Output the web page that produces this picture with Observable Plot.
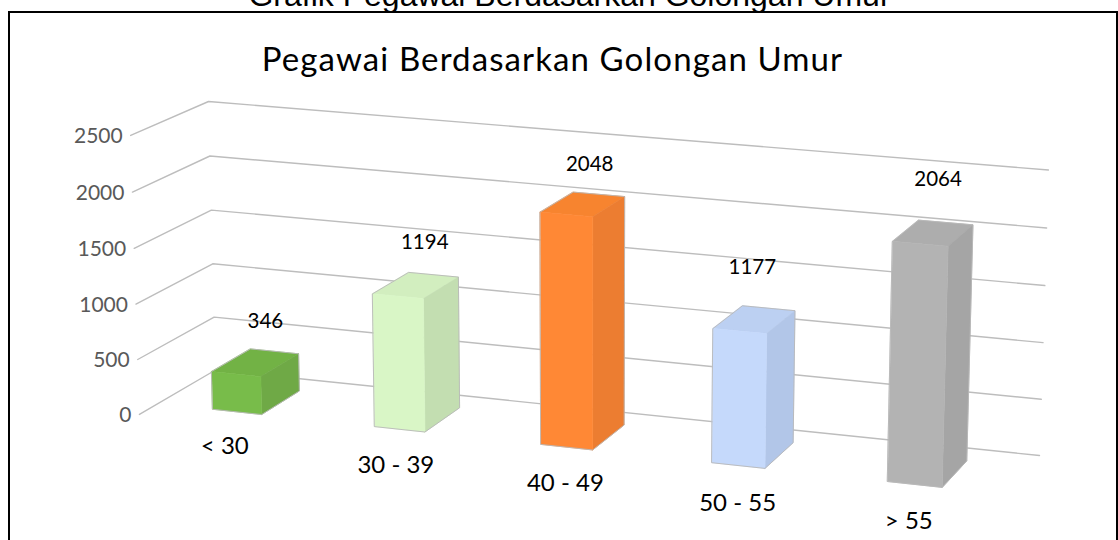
<!DOCTYPE html>
<html><head><meta charset="utf-8">
<script src="https://cdn.jsdelivr.net/npm/d3@7"></script>
<script src="https://cdn.jsdelivr.net/npm/@observablehq/plot@0.6"></script>
<style>
html,body{margin:0;padding:0;background:#fff;overflow:hidden;width:1118px;height:540px}
#chart{position:absolute;left:0;top:0;width:1118px;height:540px}
#box{position:absolute;left:7.5px;top:10.5px;width:1106px;height:560px;border:2px solid #000;pointer-events:none}
svg{display:block}
.spaced text{letter-spacing:1.1px}
</style></head>
<body><div id="chart"></div><div id="box"></div>
<script>
// Data
const categories = ["< 30", "30 - 39", "40 - 49", "50 - 55", "> 55"];
const values = [346, 1194, 2048, 1177, 2064];
const valueTicks = [0, 500, 1000, 1500, 2000, 2500];
const outerTitle = "Grafik Pegawai Berdasarkan Golongan Umur";
const chartTitle = "Pegawai Berdasarkan Golongan Umur";
const frontColors = ["#78bc4a", "#d9f6c6", "#ff8835", "#c5d9fb", "#b3b3b3"];
const sideColors = ["#6fa946", "#c3deb1", "#ec7d31", "#b2c6e8", "#a5a5a5"];
const topColors = ["#72b245", "#d2eebf", "#f7842f", "#bcd0f2", "#adadad"];

// Hand placement of the labels in the original chart, in pixels
const valueLabelDx = [9, 8, 6, -3, 4];
const valueLabelDy = [-41, -43, -40, -52, -54];
const categoryLabelDx = [5, 12, 13, 12, 5];
const categoryLabelDy = [23, 24, 24, 25, 24];

// Pinhole projection of the 3D chart box: u across categories, w depth (0 = back wall), v = value / max
const maxValue = 2500, barWidth = 0.061, barShift = -0.001, barBack = 0.24, barFront = 0.76;
function project(u, w, val) {
  const v = val / maxValue;
  const den = 1 - 0.064 * u - 0.04 * w - 0.0183 * v;
  return {
    px: (215 + 757.5 * u - 81.6 * w - 10.8 * v) / den,
    py: (369.5 + 56.4 * u + 27.9 * w - 270.35 * v) / den
  };
}

const gridRows = valueTicks.flatMap(t => [
  {tick: t, ...project(0, 1, t)},
  {tick: t, ...project(0, 0, t)},
  {tick: t, ...project(1, 0, t)}
]);

const faceRows = [], outlineRows = [];
values.forEach((val, i) => {
  const uc = (i + 0.5) / categories.length + barShift;
  const u0 = uc - barWidth / 2, u1 = uc + barWidth / 2;
  const face = (name, color, corners) => corners.forEach(([u, w, h]) =>
    faceRows.push({id: i + name, color, ...project(u, w, h)}));
  face("top", topColors[i], [[u0, barFront, val], [u1, barFront, val], [u1, barBack, val], [u0, barBack, val]]);
  face("side", sideColors[i], [[u1, barFront, 0], [u1, barBack, 0], [u1, barBack, val], [u1, barFront, val]]);
  face("front", frontColors[i], [[u0, barFront, 0], [u1, barFront, 0], [u1, barFront, val], [u0, barFront, val]]);
  [[u0, barFront, 0], [u1, barFront, 0], [u1, barBack, 0], [u1, barBack, val], [u0, barBack, val], [u0, barFront, val]]
    .forEach(([u, w, h]) => outlineRows.push({id: i, ...project(u, w, h)}));
});

const tickRows = valueTicks.map(t => ({label: String(t), ...project(0, 1, t)}));
const categoryRows = categories.map((c, i) => {
  const p = project((i + 0.5) / categories.length, 1, 0);
  return {label: c, px: p.px + categoryLabelDx[i], py: p.py + categoryLabelDy[i]};
});
const valueRows = values.map((val, i) => {
  const p = project((i + 0.5) / categories.length, 0.5, val);
  return {label: String(val), px: p.px + valueLabelDx[i], py: p.py + valueLabelDy[i]};
});

const font = "Lato, 'Open Sans', sans-serif";
const plot = Plot.plot({
  width: 1118, height: 540,
  marginTop: 0, marginRight: 0, marginBottom: 0, marginLeft: 0,
  x: {domain: [0, 1118], range: [0, 1118], axis: null},
  y: {domain: [0, 540], range: [0, 540], axis: null},
  color: {type: "identity"},
  marks: [
    Plot.line(gridRows, {x: "px", y: "py", z: "tick", stroke: "#bdbdbd", strokeWidth: 1.4}),
    Plot.line(faceRows, {x: "px", y: "py", z: "id", fill: "color", stroke: "color", strokeWidth: 0.6, curve: "linear-closed"}),
    Plot.line(outlineRows, {x: "px", y: "py", z: "id", stroke: "#b8b8b8", strokeWidth: 0.9, curve: "linear-closed"}),
    Plot.text(tickRows, {x: "px", y: "py", text: "label", textAnchor: "end", dx: -8, dy: 1, fontSize: 21, fontFamily: font, fill: "#595959"}),
    Plot.text(categoryRows, {x: "px", y: "py", text: "label", fontSize: 24, fontFamily: font, fill: "#000"}),
    Plot.text(valueRows, {x: "px", y: "py", text: "label", fontSize: 20.5, fontFamily: font, fill: "#000"}),
    Plot.text([chartTitle], {x: () => 552, y: () => 60, text: d => d, fontSize: 33, fontFamily: font, fill: "#000", className: "spaced"}),
    Plot.text([outerTitle], {x: () => 569, y: () => -5, text: d => d, fontSize: 32, fontFamily: "'Liberation Sans', Arial, sans-serif", fill: "#000"})
  ]
});
document.getElementById("chart").appendChild(plot);
</script>
</body></html>
